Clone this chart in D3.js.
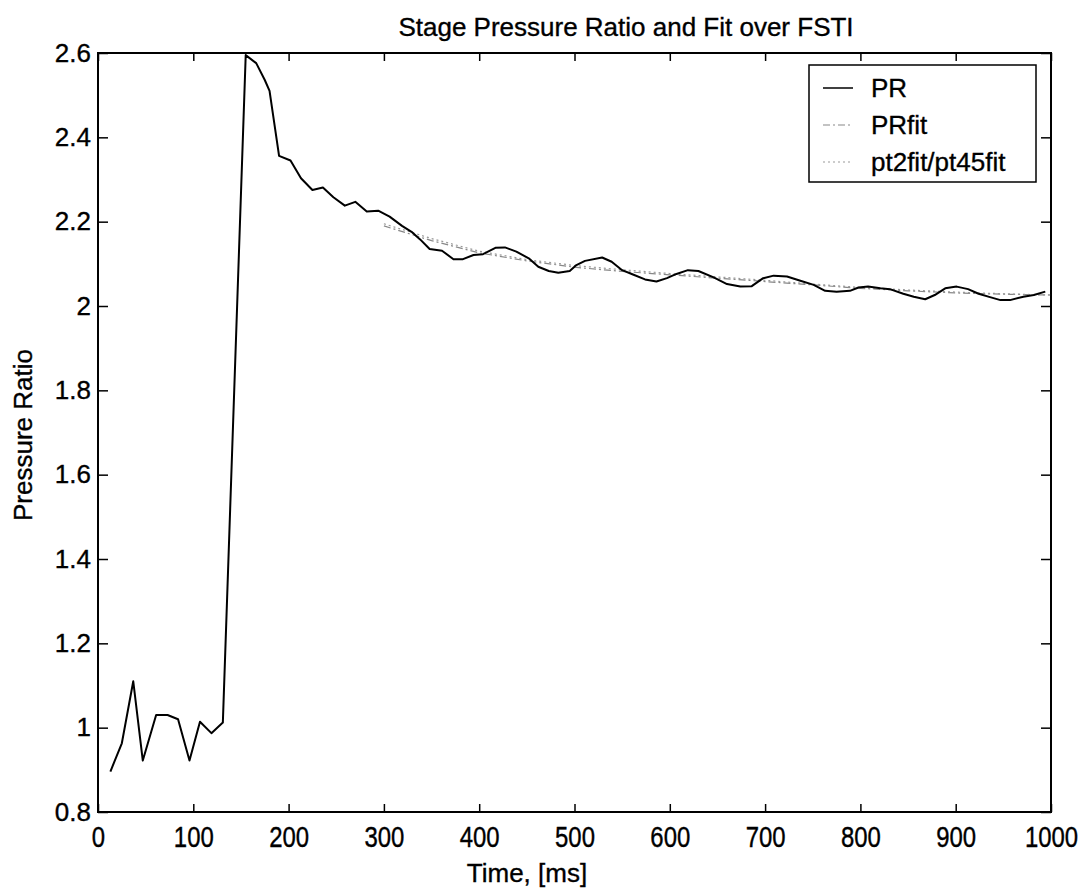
<!DOCTYPE html>
<html><head><meta charset="utf-8">
<script src="https://cdn.jsdelivr.net/npm/d3@7"></script>
<style>
body{margin:0;background:#fff;}
svg text{font-family:"Liberation Sans",Arial,Helvetica,sans-serif;fill:#000;stroke:#000;stroke-width:0.35px;}
</style></head>
<body><svg id="c" width="1087" height="895"></svg>
<script>
const prTime = [13,25,37,47,61,73,84,96,107,119,131,155,166,175,180,190,202,213,225,236,247,259,270,282,294,306,319,329,338,348,361,373,383,394,404,417,427,439,452,462,473,483,495,502,511,529,539,550,562,574,586,597,607,619,630,646,660,674,686,698,709,723,737,751,763,775,789,798,808,821,831,845,856,868,878,889,901,913,924,936,947,957,971,982,994];
const prValue = [0.896,0.963,1.11,0.922,1.03,1.03,1.02,0.922,1.014,0.987,1.012,2.595,2.576,2.536,2.51,2.356,2.345,2.303,2.275,2.281,2.258,2.238,2.247,2.224,2.226,2.212,2.19,2.176,2.158,2.135,2.131,2.111,2.111,2.121,2.123,2.138,2.139,2.129,2.113,2.093,2.083,2.079,2.083,2.097,2.107,2.115,2.105,2.085,2.074,2.063,2.058,2.066,2.076,2.085,2.083,2.068,2.052,2.046,2.047,2.066,2.072,2.07,2.06,2.05,2.036,2.034,2.036,2.044,2.046,2.042,2.04,2.029,2.022,2.016,2.026,2.042,2.046,2.04,2.029,2.021,2.014,2.014,2.022,2.026,2.034];
const fitTime = [300,350,400,450,500,550,600,650,700,750,800,850,900,950,1000];
const prFitValue = [2.19,2.155,2.126,2.107,2.092,2.082,2.074,2.066,2.058,2.05,2.042,2.036,2.031,2.028,2.026];
const ptFitValue = [2.195,2.16,2.13,2.11,2.096,2.086,2.077,2.069,2.061,2.052,2.044,2.038,2.033,2.029,2.026];
const xTicks = [0,100,200,300,400,500,600,700,800,900,1000];
const yTicks = [0.8,1,1.2,1.4,1.6,1.8,2,2.2,2.4,2.6];
const legendLabels = ["PR","PRfit","pt2fit/pt45fit"];
const titleText = "Stage Pressure Ratio and Fit over FSTI";
const xLabel = "Time, [ms]";
const yLabel = "Pressure Ratio";

const L=98,R=1051,T=53,B=812;
const svg=d3.select("#c");
const x=d3.scaleLinear().domain([0,1000]).range([L,R]);
const y=d3.scaleLinear().domain([0.8,2.6]).range([B,T]);
const FS=26;

const ax=(g,axis)=>{g.call(axis);g.select(".domain").remove();g.selectAll("line").attr("stroke","#000").attr("stroke-width",1.5);};
svg.append("g").attr("transform",`translate(0,${B})`).call(g=>ax(g,d3.axisBottom(x).tickValues(xTicks).tickSize(-8).tickFormat(d3.format("d"))))
  .selectAll("text").attr("font-size",FS).attr("y",12).attr("dy","0.71em").attr("transform","scale(0.92,1.15)");
svg.append("g").attr("transform",`translate(0,${T})`).call(g=>ax(g,d3.axisTop(x).tickValues(xTicks).tickSize(-8).tickFormat("")));
svg.append("g").attr("transform",`translate(${L},0)`).call(g=>ax(g,d3.axisLeft(y).tickValues(yTicks).tickSize(-10).tickFormat(d=>String(+d.toFixed(1)))))
  .selectAll("text").attr("font-size",FS).attr("x",-7);
svg.append("g").attr("transform",`translate(${R},0)`).call(g=>ax(g,d3.axisRight(y).tickValues(yTicks).tickSize(-10).tickFormat("")));
svg.selectAll(".tick text").attr("font-family","Liberation Sans, Arial, sans-serif");
svg.append("rect").attr("x",L).attr("y",T).attr("width",R-L).attr("height",B-T).attr("fill","none").attr("stroke","#000").attr("stroke-width",2);

const line=(xs,ys)=>d3.line().x((d,i)=>x(xs[i])).y((d,i)=>y(ys[i]))(ys);
svg.append("path").attr("d",line(fitTime,prFitValue)).attr("fill","none").attr("stroke","#888").attr("stroke-width",1.2).attr("stroke-dasharray","7,3,2,3");
svg.append("path").attr("d",line(fitTime,ptFitValue)).attr("fill","none").attr("stroke","#999").attr("stroke-width",1.2).attr("stroke-dasharray","2,3");
svg.append("path").attr("d",line(prTime,prValue)).attr("fill","none").attr("stroke","#000").attr("stroke-width",2).attr("stroke-linejoin","round");

const lg={x:809,y:65,w:227,h:117};
svg.append("rect").attr("x",lg.x).attr("y",lg.y).attr("width",lg.w).attr("height",lg.h).attr("fill","#fff").attr("stroke","#000").attr("stroke-width",1.5);
const styles=[{s:"#000",w:1.5,d:null},{s:"#888",w:1.2,d:"7,3,2,3"},{s:"#999",w:1.2,d:"2,3"}];
legendLabels.forEach((t,i)=>{
  const yy=lg.y+23+i*37;
  svg.append("line").attr("x1",lg.x+14).attr("x2",lg.x+44).attr("y1",yy).attr("y2",yy).attr("stroke",styles[i].s).attr("stroke-width",styles[i].w).attr("stroke-dasharray",styles[i].d);
  svg.append("text").attr("x",lg.x+62).attr("y",yy).attr("dy","0.36em").attr("font-size",FS).text(t);
});

svg.append("text").attr("x",626).attr("y",36).attr("text-anchor","middle").attr("font-size",FS).text(titleText);
svg.append("text").attr("x",527).attr("y",882).attr("text-anchor","middle").attr("font-size",FS).text(xLabel);
svg.append("text").attr("transform",`translate(32,435) rotate(-90)`).attr("text-anchor","middle").attr("font-size",FS).text(yLabel);
</script></body></html>
